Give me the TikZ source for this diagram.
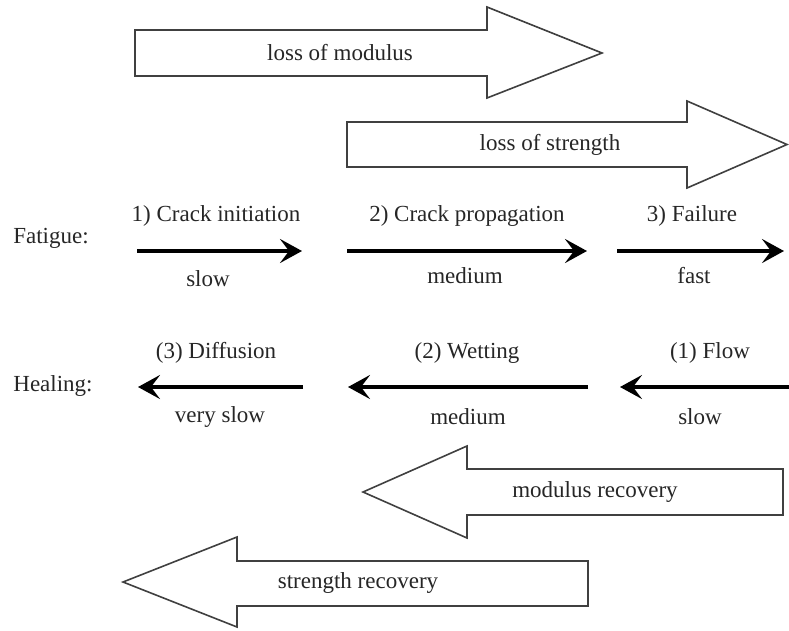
\documentclass[tikz,border=0pt]{standalone}
\usepackage{fontspec}
\setmainfont{Liberation Serif}
\newfontfamily\tnr{Liberation Serif}
\usetikzlibrary{arrows.meta}
\begin{document}
\begin{tikzpicture}[x=1pt,y=-1pt,
  blockarrow/.style={draw=black!75, line width=1.6pt, fill=white, line join=miter},
  lbl/.style={font=\tnr\fontsize{23}{27}\selectfont, inner sep=0pt, text=black!85},
  flow/.style={line width=4.5pt, -{Stealth[length=22pt,width=24pt,inset=9pt]}, black}]
\useasboundingbox (0,0) rectangle (789,630);
% block arrows
\draw[blockarrow] (135,30) -- (487,30) -- (487,7) -- (602,53) -- (487,98) -- (487,76) -- (135,76) -- cycle;
\node[lbl] (mod) at (340,53) {loss of modulus};
\draw[blockarrow] (347,122) -- (687,122) -- (687,101) -- (787,144.5) -- (687,188) -- (687,167) -- (347,167) -- cycle;
\node[lbl] (str) at (550,145) {loss of strength};
\draw[blockarrow] (783,469) -- (467,469) -- (467,446) -- (363,492) -- (467,538) -- (467,515) -- (783,515) -- cycle;
\node[lbl] (modrec) at (595,492) {modulus recovery};
\draw[blockarrow] (588,561) -- (237,561) -- (237,537) -- (123,582) -- (237,627) -- (237,606) -- (588,606) -- cycle;
\node[lbl] (strrec) at (358,583) {strength recovery};
% fatigue row
\node[lbl] (fat) at (51,238) {Fatigue:};
\coordinate (f1s) at (137,251); \coordinate (f1e) at (302,251);
\coordinate (f2s) at (347,251); \coordinate (f2e) at (587,251);
\coordinate (f3s) at (617,251); \coordinate (f3e) at (784,251);
\draw[flow] (f1s) -- (f1e);
\draw[flow] (f2s) -- (f2e);
\draw[flow] (f3s) -- (f3e);
\node[lbl] (t1) at (216,216) {1) Crack initiation};
\node[lbl] (s1) at (208,279) {slow};
\node[lbl] (t2) at (467,216) {2) Crack propagation};
\node[lbl] (s2) at (465,276) {medium};
\node[lbl] (t3) at (692,216) {3) Failure};
\node[lbl] (s3) at (694,276) {fast};
% healing row
\node[lbl] (heal) at (53,386) {Healing:};
\coordinate (h1s) at (303,387); \coordinate (h1e) at (138,387);
\coordinate (h2s) at (588,387); \coordinate (h2e) at (348,387);
\coordinate (h3s) at (789,387); \coordinate (h3e) at (620,387);
\draw[flow] (h1s) -- (h1e);
\draw[flow] (h2s) -- (h2e);
\draw[flow] (h3s) -- (h3e);
\node[lbl] (d1) at (216,353) {(3) Diffusion};
\node[lbl] (v1) at (220,417) {very slow};
\node[lbl] (d2) at (467,353) {(2) Wetting};
\node[lbl] (v2) at (468,417) {medium};
\node[lbl] (d3) at (710,353) {(1) Flow};
\node[lbl] (v3) at (700,417) {slow};
\end{tikzpicture}
\end{document}
